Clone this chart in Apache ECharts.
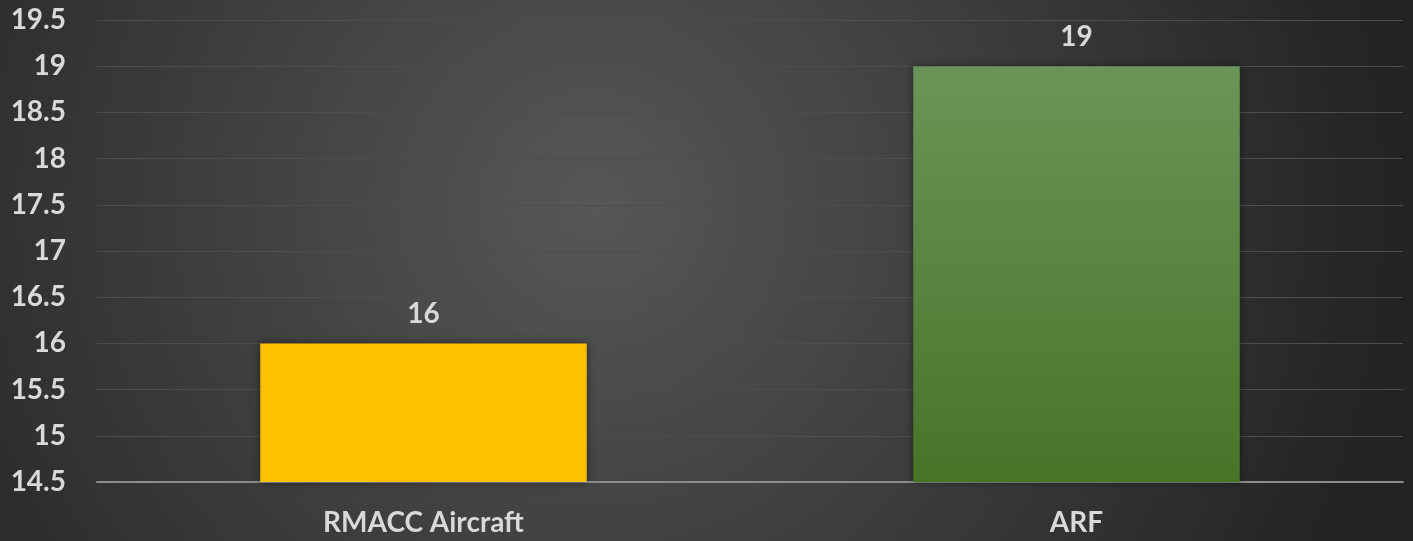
<!DOCTYPE html>
<html>
<head>
<meta charset="utf-8">
<script src="https://cdn.jsdelivr.net/npm/echarts@6/dist/echarts.min.js"></script>
<style>html,body{margin:0;padding:0;background:#2a2a2a}#c{width:1413px;height:541px}</style>
</head>
<body>
<div id="c"></div>
<script>
const categories = ['RMACC Aircraft', 'ARF'];
const values = [16, 19];
const yMin = 14.5, yMax = 19.5, yStep = 0.5;

const chart = echarts.init(document.getElementById('c'));
const font = 'Lato, "Open Sans", sans-serif';
const fs = 28;
const barColors = [
  '#FFC000',
  {type:'linear', x:0, y:0, x2:0, y2:1, colorStops:[{offset:0,color:'#6a9558'},{offset:1,color:'#467528'}]}
];
chart.setOption({
  backgroundColor: {type:'radial', x:0.42, y:0.38, r:1.5,
    colorStops:[{offset:0,color:'#575757'},{offset:1,color:'#232323'}]},
  animation:false,
  grid:{left:97, right:10, top:20, bottom:59},
  xAxis:{type:'category', data:categories,
    axisLine:{lineStyle:{color:'#8c8c8c', width:2}},
    axisTick:{show:false},
    axisLabel:{color:'#d9d9d9', fontSize:fs, fontWeight:'bold', fontFamily:font, margin:27}},
  yAxis:{type:'value', min:yMin, max:yMax, interval:yStep,
    axisLine:{show:false}, axisTick:{show:false},
    splitLine:{lineStyle:{color:'#4d4d4d', width:1}},
    axisLabel:{color:'#d9d9d9', fontSize:fs, fontWeight:'bold', fontFamily:font, margin:31,
      formatter:v=>String(v)}},
  series:[{type:'bar', barWidth:'50%',
    data: values.map((v,i)=>({value:v, itemStyle:{color:barColors[i]}})),
    itemStyle:{shadowColor:'rgba(0,0,0,0.45)', shadowBlur:8},
    label:{show:true, position:'top', distance:15, color:'#d9d9d9', fontSize:fs, fontWeight:'bold', fontFamily:font}
  }]
});
</script>
</body>
</html>
